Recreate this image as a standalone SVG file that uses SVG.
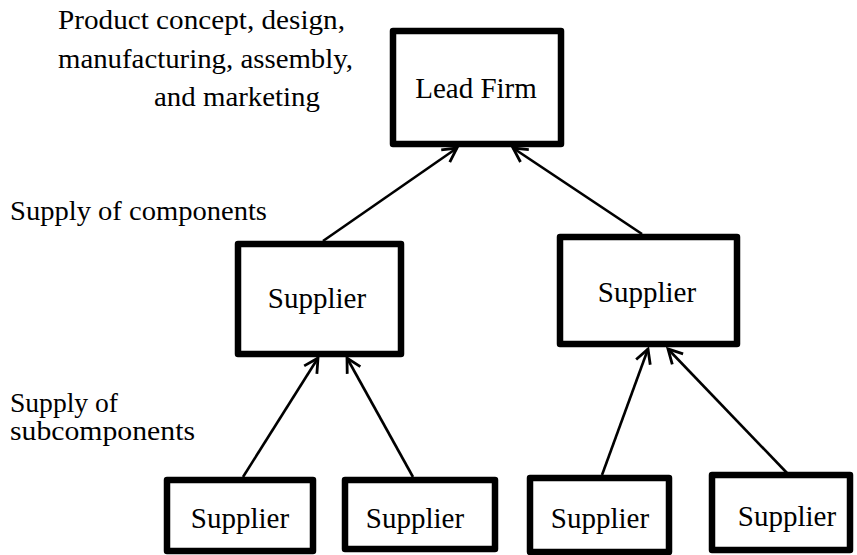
<svg xmlns="http://www.w3.org/2000/svg" width="857" height="555" viewBox="0 0 857 555">
<style>
.box{fill:#fff;stroke:#000;stroke-width:6.5;stroke-linejoin:round}
.t{font-family:'Liberation Serif','Times New Roman',Tinos,'DejaVu Serif',serif;font-size:27px;fill:#000}
.bt{font-family:'Liberation Serif','Times New Roman',Tinos,'DejaVu Serif',serif;font-size:29px;fill:#000;text-anchor:middle}
.c{stroke:#000;stroke-width:2.6;fill:none}
</style>
<defs>
<marker id="arr" markerUnits="userSpaceOnUse" markerWidth="24" markerHeight="24" refX="20" refY="12" orient="auto" overflow="visible">
<path d="M6,4.5 L20,12 L6,19.5" fill="none" stroke="#000" stroke-width="2.8"/>
</marker>
</defs>
<rect width="857" height="555" fill="#fff"/>
<g id="labels">
<text class="t" x="58" y="29" textLength="287" lengthAdjust="spacingAndGlyphs">Product concept, design,</text>
<text class="t" x="58" y="68" textLength="295" lengthAdjust="spacingAndGlyphs">manufacturing, assembly,</text>
<text class="t" x="154" y="106" textLength="166" lengthAdjust="spacingAndGlyphs">and marketing</text>
<text class="t" x="10" y="220" textLength="257" lengthAdjust="spacingAndGlyphs">Supply of components</text>
<text class="t" x="10" y="412" textLength="108" lengthAdjust="spacingAndGlyphs">Supply of</text>
<text class="t" x="10" y="440" textLength="185" lengthAdjust="spacingAndGlyphs">subcomponents</text>
</g>
<g id="connectors">
<line class="c" x1="323" y1="241" x2="457" y2="148" marker-end="url(#arr)"/>
<line class="c" x1="642" y1="234" x2="513" y2="148" marker-end="url(#arr)"/>
<line class="c" x1="243" y1="477" x2="318" y2="358" marker-end="url(#arr)"/>
<line class="c" x1="413" y1="477" x2="347" y2="358" marker-end="url(#arr)"/>
<line class="c" x1="602" y1="475" x2="648" y2="349" marker-end="url(#arr)"/>
<line class="c" x1="787" y1="473" x2="668" y2="349" marker-end="url(#arr)"/>
</g>
<g id="lead-firm">
<rect class="box" x="393" y="31" width="168" height="113"/>
<text class="bt" x="476" y="98">Lead Firm</text>
</g>
<g id="supplier-mid-left">
<rect class="box" x="238" y="244" width="163" height="110"/>
<text class="bt" x="317" y="308">Supplier</text>
</g>
<g id="supplier-mid-right">
<rect class="box" x="560" y="237" width="177" height="107"/>
<text class="bt" x="647" y="302">Supplier</text>
</g>
<g id="supplier-bottom-1">
<rect class="box" x="167" y="480" width="146" height="71"/>
<text class="bt" x="240" y="528">Supplier</text>
</g>
<g id="supplier-bottom-2">
<rect class="box" x="345" y="480" width="150" height="69"/>
<text class="bt" x="415" y="528">Supplier</text>
</g>
<g id="supplier-bottom-3">
<rect class="box" x="530" y="478" width="139" height="74"/>
<text class="bt" x="600" y="528">Supplier</text>
</g>
<g id="supplier-bottom-4">
<rect class="box" x="712" y="475" width="138" height="75"/>
<text class="bt" x="787" y="526">Supplier</text>
</g>
</svg>
